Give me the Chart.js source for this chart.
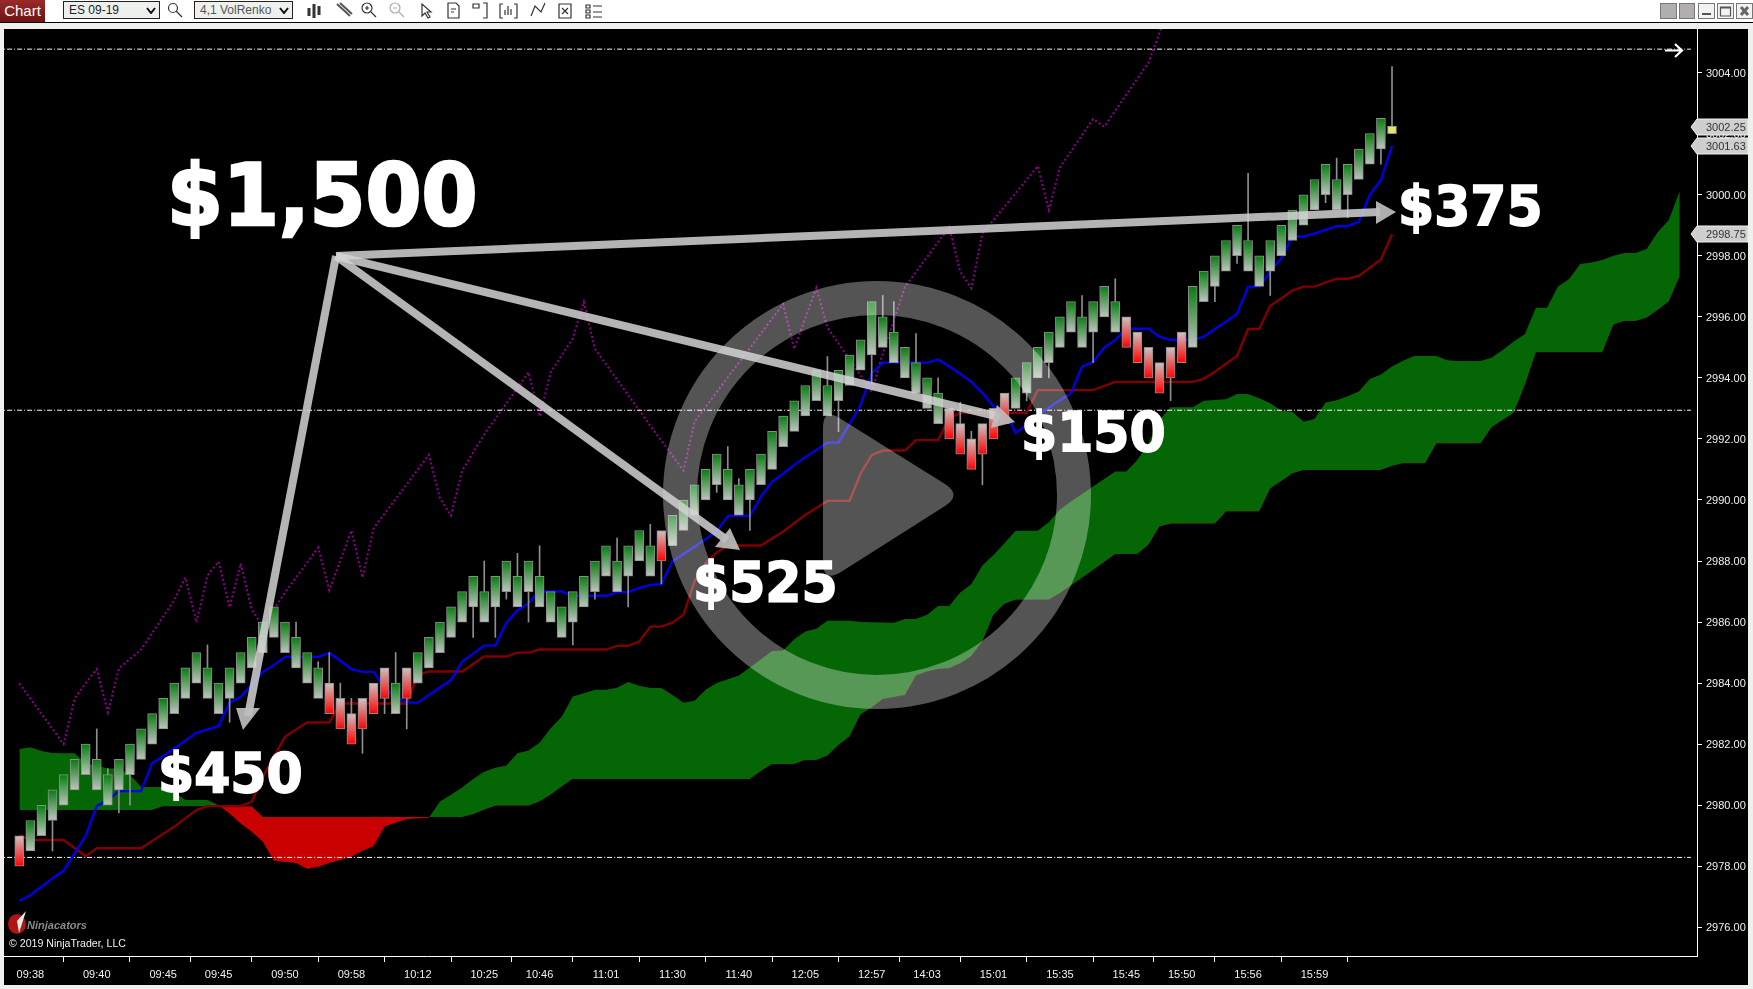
<!DOCTYPE html>
<html>
<head>
<meta charset="utf-8">
<title>ES 09-19 4,1 VolRenko</title>
<style>
  html, body { margin: 0; padding: 0; width: 1753px; height: 989px; overflow: hidden; background: #eef0ee; font-family: "Liberation Sans", Arial, sans-serif; }
  .top_bar { position: absolute; left: 0; top: 0; width: 1753px; height: 22px; background: #fff; border-bottom: 1px solid #000; }
  .chart_tab { position: absolute; left: 0; top: 0; width: 45px; height: 22px; background: linear-gradient(#9a2a2a, #6e1212); color: #fff; font-size: 15px; line-height: 21px; text-align: center; }
  .pick { position: absolute; top: 1px; height: 18px; box-sizing: border-box; border: 1px solid #222; background: #eef0ee; font-size: 12px; line-height: 16px; padding-left: 5px; color: #222; }
  .pick svg { position: absolute; right: 3px; top: 5px; }
  .panel { position: absolute; left: 4px; top: 29px; width: 1744px; height: 956px; background: #000; }
  #chart { position: absolute; left: 4px; top: 29px; }
  .overlay { position: absolute; left: 0; top: 0; pointer-events: none; }
  .bottom_bar { position: absolute; left: 0; top: 985px; width: 1753px; height: 4px; background: #eef0ee; }
</style>
</head>
<body>

<div class="top_bar">
  <div class="chart_tab">Chart</div>
  <div class="pick" style="left:63px;width:97px">ES 09-19<svg width="10" height="7"><path d="M1 1 L5 6 L9 1" fill="none" stroke="#111" stroke-width="2"/></svg></div>
  <div class="pick" style="left:194px;width:99px;color:#555">4,1 VolRenko<svg width="10" height="7"><path d="M1 1 L5 6 L9 1" fill="none" stroke="#111" stroke-width="2"/></svg></div>
</div>
<div class="panel"></div>
<canvas id="chart" width="1744" height="956"></canvas>
<div class="bottom_bar"></div>

<svg class="overlay" width="1753" height="989" xmlns="http://www.w3.org/2000/svg">
  <!-- toolbar icons -->
  <g fill="none" stroke="#333" stroke-width="1.2">
    <circle cx="173" cy="8" r="4.5"/><path d="M176 11 L182 17"/>
    <path d="M309 8 V16 M314 4 V18 M319 6 V15" stroke-width="3"/>
    <path d="M337 4 L350 16 M340 3 L352 14" stroke-width="2" stroke="#555"/>
    <circle cx="367" cy="8" r="5"/><path d="M371 12 L376 17 M365 8 H369 M367 6 V10"/>
    <circle cx="395" cy="8" r="5" stroke="#aaa"/><path d="M399 12 L404 17 M393 8 H397" stroke="#aaa"/>
    <path d="M422 4 L422 16 L425 13 L428 18 L430 17 L427 12 L431 12 Z"/>
    <path d="M448 3 H456 L459 6 V18 H448 Z M451 9 H456 M451 12 H454"/>
    <path d="M473 4 H479 V8 H473 Z M483 3 H487 V18 H483"/>
    <path d="M503 4 H500 V18 H503 M514 4 H517 V18 H514 M505 15 V10 M508 15 V6 M511 15 V9"/>
    <path d="M531 16 L535 6 L541 12 L545 3"/>
    <path d="M559 4 H571 V18 H559 Z M562 8 L568 14 M568 8 L562 14"/>
    <path d="M586 5 H590 V8 H586 Z M586 10 H590 V13 H586 Z M586 15 H590 V18 H586 Z M593 6 H602 M593 12 H602 M593 17 H602"/>
  </g>
  <g stroke="#777" fill="#b0aeae">
    <rect x="1660.5" y="3.5" width="16" height="15"/>
    <rect x="1679.5" y="3.5" width="15" height="15"/>
  </g>
  <g stroke="#777" fill="#f2f2f2">
    <rect x="1698.5" y="3.5" width="16" height="15"/>
    <rect x="1717.5" y="3.5" width="16" height="15"/>
    <rect x="1736.5" y="3.5" width="16" height="15"/>
  </g>
  <path d="M1702 14 H1711" stroke="#555" stroke-width="2"/>
  <path d="M1720.5 7 H1730.5 V16 H1720.5 Z M1720.5 8 H1730.5" stroke="#555" fill="none" stroke-width="1.2"/>
  <path d="M1741 7 L1748 15 M1748 7 L1741 15" stroke="#666" stroke-width="3"/>

  <!-- scroll-to-end arrow -->
  <path d="M1665 50.5 H1682 M1675 44 L1682 50.5 L1675 57" fill="none" stroke="#fff" stroke-width="2.2"/>

  <!-- watermark logo -->
  <ellipse cx="17" cy="924" rx="9" ry="10" fill="#b01414"/>
  <path d="M26 911 L19 933 L17 921 Z" fill="#e8e8e8"/>
  <text x="27" y="929" font-family="Liberation Sans" font-style="italic" font-weight="700" font-size="11" fill="#8a8a8a">Ninjacators</text>
  <text x="9" y="947" font-family="Liberation Sans" font-size="10.6" fill="#f0f0f0">© 2019 NinjaTrader, LLC</text>

  <!-- play button -->
  <circle cx="877" cy="495" r="197" fill="none" stroke="#fff" stroke-opacity="0.33" stroke-width="34"/>
  <path d="M823 428 Q823 407 841 419 L945 484 Q962 495 945 506 L841 572 Q823 583 823 562 Z" fill="#fff" fill-opacity="0.33"/>

  <!-- arrows -->
  <g fill="none" stroke="#d4d4d4" stroke-opacity="0.85" stroke-width="8">
    <path d="M336 256 L248 716"/>
    <path d="M336 256 L727 540"/>
    <path d="M336 256 L1000 417"/>
    <path d="M336 256 L1380 212"/>
  </g>
  <g fill="#bdbdbd" fill-opacity="0.92">
    <path d="M243 730 L236 708 L260 708 Z"/>
    <path d="M740 550 L715 547 L730 528 Z"/>
    <path d="M1015 422 L991 428 L997 405 Z"/>
    <path d="M1396 212 L1376 201 L1376 224 Z"/>
  </g>

  <!-- annotation text, a little taller than the stock glyphs -->
  <g font-family="DejaVu Sans" font-weight="700" fill="#fff" stroke="#fff">
    <text transform="translate(167 225) scale(1 1.07)" font-size="80.5" stroke-width="2.5">$1,500</text>
    <text transform="translate(158 792) scale(1 1.06)" font-size="52" stroke-width="1.6">$450</text>
    <text transform="translate(693 601) scale(1 1.06)" font-size="52" stroke-width="1.6">$525</text>
    <text transform="translate(1021 451) scale(1 1.06)" font-size="52" stroke-width="1.6">$150</text>
    <text transform="translate(1398 225) scale(1 1.06)" font-size="52" stroke-width="1.6">$375</text>
  </g>
</svg>

<script src="https://cdn.jsdelivr.net/npm/chart.js@4"></script>
<script>
  // x tick labels and the bars they sit on
  var timeLabels = ['09:38','09:40','09:45','09:45','09:50','09:58','10:12','10:25','10:46','11:01','11:30','11:40','12:05','12:57','14:03','15:01','15:35','15:45','15:50','15:56','15:59'];
  var timeBars = [1,7,13,18,24,30,36,42,47,53,59,65,71,77,82,88,94,100,105,111,117];
  var priceTicks = [2976,2978,2980,2982,2984,2986,2988,2990,2992,2994,2996,2998,3000,3002,3004];

  // renko bodies, one per bar
  var bodyTop = [2979,2979.5,2980,2980.5,2981,2981.5,2982,2981.5,2981,2981.5,2982,2982.5,2983,2983.5,2984,2984.5,2985,2984.5,2984,2984.5,2985,2985.5,2986,2986.5,2986,2985.5,2985,2984.5,2984,2983.5,2983,2983.5,2984,2984.5,2984,2984.5,2985,2985.5,2986,2986.5,2987,2987.5,2987,2987.5,2988,2987.5,2988,2987.5,2987,2986.5,2987,2987.5,2988,2988.5,2988,2988.5,2989,2988.5,2989,2989.5,2990,2990.5,2991,2991.5,2991,2990.5,2991,2991.5,2992.25,2992.75,2993.25,2993.75,2994.25,2993.75,2994.25,2994.75,2995.25,2996.5,2996,2995.5,2995,2994.5,2994,2993.5,2993,2992.5,2992,2992.5,2993,2993.5,2994,2994.5,2995,2995.5,2996,2996.5,2996,2996.5,2997,2996.5,2996,2995.5,2995,2994.5,2995,2995.5,2997,2997.5,2998,2998.5,2999,2998.5,2998,2998.5,2999,2999.5,3000,3000.5,3001,3000.5,3001,3001.5,3002,3002.5,3002.25];
  var bodyBottom = [2978,2978.5,2979,2979.5,2980,2980.5,2981,2980.5,2980,2980.5,2981,2981.5,2982,2982.5,2983,2983.5,2984,2983.5,2983,2983.5,2984,2984.5,2985,2985.5,2985,2984.5,2984,2983.5,2983,2982.5,2982,2982.5,2983,2983.5,2983,2983.5,2984,2984.5,2985,2985.5,2986,2986.5,2986,2986.5,2987,2986.5,2987,2986.5,2986,2985.5,2986,2986.5,2987,2987.5,2987,2987.5,2988,2987.5,2988,2988.5,2989,2989.5,2990,2990.5,2990,2989.5,2990,2990.5,2991,2991.75,2992.25,2992.75,2993.25,2992.75,2993.25,2993.75,2994.25,2994.75,2995,2994.5,2994,2993.5,2993,2992.5,2992,2991.5,2991,2991.5,2992,2992.5,2993,2993.5,2994,2994.5,2995,2995.5,2995,2995.5,2996,2995.5,2995,2994.5,2994,2993.5,2994,2994.5,2995,2996.5,2997,2997.5,2998,2997.5,2997,2997.5,2998,2998.5,2999,2999.5,3000,2999.5,3000,3000.5,3001,3001.5,3002];
  var downBars = [0,28,29,30,31,32,33,35,58,84,85,86,87,88,89,100,101,102,103,104,105];
  var lastBar = 124;

  // wicks
  var upperWickBars = [7,8,17,25,27,28,29,30,34,42,45,47,54,57,64,65,73,78,79,81,83,85,86,96,99,111,119,124];
  var upperWickTo = [2982.5,2981.2,2985.25,2986,2984.7,2985,2984,2983.5,2985,2988,2988.25,2988.5,2988.75,2989.2,2991.75,2990.7,2994.7,2996.7,2996.5,2995.45,2994,2993.2,2992.25,2996.7,2997.25,3000.7,3001.2,3004.2];
  var lowerWickBars = [3,9,10,19,31,33,35,41,43,44,46,50,52,55,58,63,66,74,77,87,91,93,97,104,108,110,113,118,120,123];
  var lowerWickTo = [2978.5,2979.75,2980,2982.72,2981.7,2983,2982.5,2985.5,2985.5,2986.75,2986,2985.25,2986.75,2986.5,2987.25,2990.25,2989,2992.24,2993.8,2990.5,2993.25,2994,2994.5,2993.25,2996.5,2997.75,2996.7,2999.74,2999.25,3001];

  // blue line
  var fastBars = [0,1,2,3,4,5,6,7,8,9,11,12,13,14,16,18,19,20,21,22,23,24,27,28,29,30,31,32,33,34,35,36,37,38,39,40,42,43,44,45,46,47,49,50,53,54,55,56,57,58,59,60,61,63,64,66,67,68,69,70,71,73,74,76,77,78,82,83,84,85,86,87,88,89,90,91,92,94,95,96,97,98,99,100,102,103,104,106,107,108,109,110,111,112,113,114,115,116,117,119,120,121,122,123,124];
  var fastValues = [2976.87,2977.05,2977.33,2977.6,2977.85,2978.42,2978.99,2979.97,2980.17,2980.46,2980.46,2981.37,2981.61,2981.86,2982.37,2982.59,2983.36,2983.55,2983.94,2984.37,2984.59,2984.86,2984.86,2984.99,2984.73,2984.46,2984.37,2984.37,2983.83,2983.55,2983.36,2983.36,2983.61,2983.86,2984.1,2984.7,2985.23,2985.23,2985.98,2986.38,2986.62,2987,2987,2986.86,2986.86,2986.98,2986.98,2987.11,2987.22,2987.24,2987.99,2988.23,2988.47,2988.97,2989.48,2989.48,2990.11,2990.6,2990.86,2991.15,2991.4,2991.88,2991.88,2993.11,2994.15,2994.5,2994.5,2994.6,2994.37,2994.13,2993.88,2993.5,2993.06,2992.95,2992.2,2992.46,2992.78,2993.27,2993.5,2994.37,2994.53,2994.99,2995.24,2995.61,2995.61,2995.35,2995.24,2995.24,2995.35,2995.6,2995.84,2996.1,2996.99,2996.99,2997.48,2997.92,2998.63,2998.63,2998.73,2998.97,2998.97,2999.12,3000,3000.48,3001.6];

  // dark red line
  var slowBars = [0,1,4,6,7,11,12,14,16,17,20,21,22,24,26,28,29,35,36,37,40,42,44,45,46,47,53,54,55,56,57,58,59,60,61,62,63,64,67,69,71,73,75,76,77,78,80,81,83,84,85,91,92,97,99,106,107,108,110,111,112,113,114,115,116,117,119,120,121,123,124];
  var slowValues = [2979.02,2978.86,2978.86,2978.33,2978.59,2978.59,2978.83,2979.29,2979.84,2979.97,2979.97,2980.11,2980.93,2982.24,2982.71,2982.71,2983.33,2983.33,2984.27,2984.38,2984.38,2984.87,2984.87,2985,2985,2985.1,2985.1,2985.22,2985.22,2985.36,2985.85,2985.85,2985.98,2986.24,2987.33,2987.93,2988.28,2988.51,2988.51,2988.97,2989.51,2989.97,2989.97,2990.87,2991.47,2991.62,2991.62,2991.96,2991.96,2992.67,2992.86,2992.86,2993.6,2993.6,2993.87,2993.87,2993.97,2994.2,2994.72,2995.6,2995.6,2996.36,2996.6,2996.86,2996.99,2996.99,2997.25,2997.25,2997.34,2997.88,2998.7];

  // purple dotted line
  var laggingBars = [0,4,5,6,7,8,9,11,14,15,16,17,18,19,20,21,22,24,27,28,30,31,32,37,38,39,40,42,46,47,48,50,51,52,57,60,61,69,70,72,73,75,77,78,80,84,85,86,87,92,93,94,97,98,102,103,104];
  var laggingValues = [2983.99,2982,2983.5,2984,2984.46,2983.04,2984.48,2985.1,2986.72,2987.46,2985.99,2987.53,2987.98,2986.48,2987.92,2986.41,2985.85,2986.97,2988.44,2987.04,2989,2987.46,2989.07,2991.48,2990.05,2989.49,2990.96,2992.15,2994.18,2992.74,2994.18,2995.3,2996.49,2994.95,2992.43,2990.96,2992.57,2996.42,2994.95,2996.95,2995.65,2994.6,2993.55,2994.8,2996.98,2998.94,2997.47,2996.94,2998.73,3000.94,2999.5,3000.9,3002.48,3002.23,3004.33,3005.31,3006.5];

  // cloud edges
  var spanABars = [0,1,2,3,4,5,6,7,8,9,10,11,13,14,15,17,18,19,20,21,22,23,25,26,27,28,30,31,32,33,35,37,38,39,40,41,42,43,44,45,46,47,48,49,50,51,52,53,54,55,56,57,58,59,60,61,62,63,64,65,66,67,68,69,70,71,72,73,75,76,79,80,81,82,83,84,85,86,87,88,89,90,92,93,94,95,97,99,100,101,102,103,104,106,107,109,110,111,112,113,114,115,116,117,118,119,120,121,122,123,124,125,126,128,129,130,132,133,134,135,136,137,138,139,140,141,142,143,144,145,146,147,148,149,150];
  var spanAValues = [2981.84,2981.9,2981.78,2981.71,2981.7,2981.7,2981.37,2981.3,2981.2,2981.2,2981,2980.6,2980.6,2980.44,2980.17,2980.17,2980,2979.73,2979.4,2979.13,2978.8,2978.18,2978.11,2977.92,2977.98,2978.11,2978.31,2978.51,2978.66,2979.3,2979.55,2979.59,2980.12,2980.34,2980.58,2980.86,2981.1,2981.23,2981.3,2981.7,2981.79,2982.05,2982.52,2982.9,2983.56,2983.67,2983.78,2983.78,2983.85,2984.04,2983.91,2983.84,2983.84,2983.61,2983.36,2983.42,2983.78,2984,2984.13,2984.25,2984.51,2984.78,2985.05,2985.07,2985.44,2985.69,2985.78,2986.04,2986.04,2986,2985.98,2986.1,2986.1,2986.24,2986.53,2986.53,2986.97,2987.24,2987.85,2988.2,2988.58,2988.99,2988.99,2989.27,2989.68,2989.95,2990.44,2990.93,2990.93,2991.31,2991.86,2992.62,2993.04,2993.04,2993.25,2993.3,2993.47,2993.47,2993.33,2993.17,2992.92,2992.89,2992.56,2992.65,2993.19,2993.27,2993.4,2993.55,2993.96,2994.11,2994.37,2994.56,2994.72,2994.72,2994.58,2994.55,2994.55,2994.66,2994.91,2995.19,2995.43,2996.3,2996.3,2996.99,2997.24,2997.73,2997.78,2997.86,2998,2998.09,2998.09,2998.22,2998.77,2999.17,3000.13];
  var spanBBars = [0,12,13,21,22,40,41,42,43,46,47,48,49,50,66,67,68,70,71,72,73,74,75,76,77,78,80,81,82,83,84,85,86,87,88,89,90,93,94,95,97,99,101,102,103,104,108,109,112,113,115,116,123,124,125,127,128,132,133,135,136,137,143,144,145,146,147,148,149,150];
  var spanBValues = [2979.84,2979.84,2979.97,2979.97,2979.61,2979.61,2979.7,2979.85,2979.98,2979.98,2980.12,2980.34,2980.61,2980.86,2980.86,2981.12,2981.35,2981.35,2981.48,2981.48,2981.62,2981.97,2982.25,2982.98,2983.2,2983.48,2983.61,2984.25,2984.38,2984.46,2984.49,2984.65,2984.89,2985.36,2986.24,2986.6,2986.73,2986.73,2986.95,2987.2,2987.71,2988.23,2988.23,2988.53,2989.13,2989.22,2989.22,2989.62,2989.62,2990.38,2990.87,2990.98,2990.98,2991.11,2991.2,2991.2,2991.85,2991.85,2992.38,2992.86,2993.77,2994.84,2994.84,2995.75,2995.86,2995.86,2995.97,2996.22,2996.5,2997.34];

  // white dash-dot levels and the grey price tags on the axis
  var levelPrices = [3004.77,2992.94,2978.29];
  var tagPrices = [3002.25,3001.63,2998.75];

  function pairs(bars, values) {
    return bars.map(function (b, i) { return { x: b, y: values[i] }; });
  }

  // bodies get a vertical gradient over their own height
  function bodyFill(context) {
    var chart = context.chart;
    var raw = context.raw;
    if (!raw || !chart.scales.y) return '#888';
    if (raw.x === lastBar) return '#e6e664';
    var top = chart.scales.y.getPixelForValue(raw.y[1]);
    var bottom = chart.scales.y.getPixelForValue(raw.y[0]);
    // the scale has no pixels yet on the first pass
    if (!isFinite(top) || !isFinite(bottom)) return '#888';
    var g = chart.ctx.createLinearGradient(0, top, 0, bottom);
    if (downBars.indexOf(raw.x) >= 0) {
      g.addColorStop(0, '#cfc2c2');
      g.addColorStop(1, '#ff0000');
    } else {
      g.addColorStop(0, '#067d0e');
      g.addColorStop(1, '#bfc5bf');
    }
    return g;
  }

  var bodies = bodyTop.map(function (t, i) { return { x: i, y: [bodyBottom[i], t] }; });
  var wicks = upperWickBars.map(function (b, i) { return { x: b, y: [bodyTop[b], upperWickTo[i]] }; })
    .concat(lowerWickBars.map(function (b, i) { return { x: b, y: [lowerWickTo[i], bodyBottom[b]] }; }));

  var levelSets = levelPrices.map(function (p) {
    return {
      type: 'line',
      data: [{ x: -2, y: p }, { x: 151, y: p }],
      borderColor: '#ffffff', borderWidth: 1, borderDash: [5, 2, 1, 2],
      pointRadius: 0, order: 4
    };
  });

  // scale sizes are pinned so the plot lands where the reference has it
  function pinX(scale) { scale.height = 29; scale.paddingLeft = 0; scale.paddingRight = 0; }
  function pinY(scale) { scale.width = 51; scale.paddingTop = 0; scale.paddingBottom = 0; }

  var priceTagPlugin = {
    id: 'priceTags',
    afterDraw: function (chart) {
      var c = chart.ctx;
      var right = chart.chartArea.right;
      c.save();
      c.font = '11px "Liberation Sans"';
      c.textBaseline = 'middle';
      tagPrices.forEach(function (p) {
        var y = Math.round(chart.scales.y.getPixelForValue(p)) + 1;
        c.beginPath();
        c.moveTo(right - 6, y);
        c.lineTo(right, y - 8);
        c.lineTo(right + 51, y - 8);
        c.lineTo(right + 51, y + 8);
        c.lineTo(right, y + 8);
        c.closePath();
        c.fillStyle = '#cfcfcf';
        c.fill();
        c.strokeStyle = '#f0f0f0';
        c.stroke();
        c.fillStyle = '#333';
        c.fillText(p.toFixed(2), right + 9, y + 1);
      });
      c.restore();
    }
  };

  var chart = new Chart(document.getElementById('chart'), {
    type: 'line',
    data: {
      datasets: [
        { data: pairs(spanABars, spanAValues), borderWidth: 0, pointRadius: 0, order: 6,
          fill: { target: '+1', above: '#056605', below: '#c90000' } },
        { data: pairs(spanBBars, spanBValues), borderWidth: 0, pointRadius: 0, order: 6, fill: false },
        { data: pairs(laggingBars, laggingValues), borderColor: '#8b008b', borderWidth: 2, borderDash: [2, 2.4], pointRadius: 0, order: 5 },
        { data: pairs(slowBars, slowValues), borderColor: '#800000', borderWidth: 2.4, pointRadius: 0, order: 3 },
        { data: pairs(fastBars, fastValues), borderColor: '#0000e6', borderWidth: 2.4, pointRadius: 0, order: 2 },
        { type: 'bar', data: wicks, backgroundColor: '#8e8e8e', barThickness: 1, grouped: false, order: 1 },
        { type: 'bar', data: bodies, backgroundColor: bodyFill, borderColor: '#8c8c8c', borderWidth: 1, borderSkipped: false, barThickness: 9, grouped: false, order: 0 }
      ].concat(levelSets)
    },
    options: {
      responsive: false,
      animation: false,
      events: [],
      layout: { padding: 0 },
      plugins: { legend: { display: false }, tooltip: { enabled: false } },
      scales: {
        x: {
          type: 'linear',
          min: -1.38,
          max: 151.55,
          offset: false,
          afterFit: pinX,
          afterBuildTicks: function (scale) {
            scale.ticks = timeBars.map(function (b) { return { value: b }; });
          },
          grid: { drawOnChartArea: false, color: '#ffffff', tickLength: 6 },
          border: { color: '#ffffff', width: 1 },
          ticks: {
            autoSkip: false, maxRotation: 0, padding: 6,
            color: '#f0f0f0', font: { family: 'Liberation Sans', size: 11 },
            callback: function (v) { return timeLabels[timeBars.indexOf(v)]; }
          }
        },
        y: {
          position: 'right',
          min: 2975.06,
          max: 3005.43,
          afterFit: pinY,
          afterBuildTicks: function (scale) {
            scale.ticks = priceTicks.map(function (p) { return { value: p }; });
          },
          grid: { drawOnChartArea: false, color: '#ffffff', tickLength: 5 },
          border: { color: '#ffffff', width: 1 },
          ticks: {
            autoSkip: false, padding: 4,
            color: '#f0f0f0', font: { family: 'Liberation Sans', size: 11, lineHeight: 0.18 },
            // empty first line with a 2px line height pushes the label down 1px
            callback: function (v) { return ['', v.toFixed(2)]; }
          }
        }
      }
    },
    plugins: [priceTagPlugin]
  });
</script>

</body>
</html>
